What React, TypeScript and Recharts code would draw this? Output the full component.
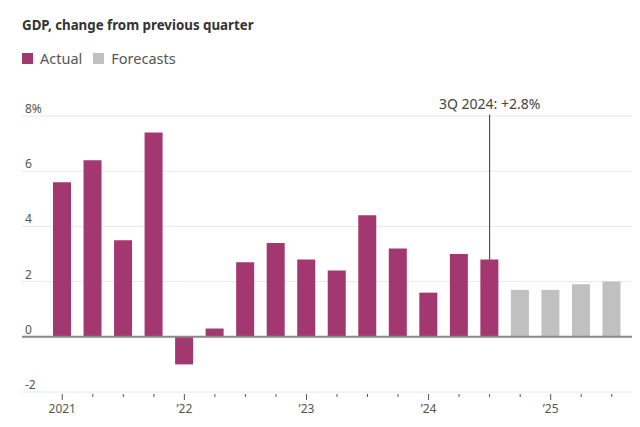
import React from 'react';
import { ComposedChart, Bar, Cell, XAxis, YAxis, CartesianGrid, ReferenceLine } from 'recharts';

const quarters = [
  '1Q21', '2Q21', '3Q21', '4Q21',
  '1Q22', '2Q22', '3Q22', '4Q22',
  '1Q23', '2Q23', '3Q23', '4Q23',
  '1Q24', '2Q24', '3Q24', '4Q24',
  '1Q25', '2Q25', '3Q25',
];
const gdpValues = [5.6, 6.4, 3.5, 7.4, -1.0, 0.3, 2.7, 3.4, 2.8, 2.4, 4.4, 3.2, 1.6, 3.0, 2.8, 1.7, 1.7, 1.9, 2.0];
const isForecast = [false, false, false, false, false, false, false, false, false, false, false, false, false, false, false, true, true, true, true];
const yearLabels: Record<string, string> = { '1Q21': '2021', '1Q22': '\u201922', '1Q23': '\u201923', '1Q24': '\u201924', '1Q25': '\u201925' };
const yTicks = [-2, 0, 2, 4, 6, 8];

const ACTUAL = '#a3376f';
const FORECAST = '#c0c0c0';
const FONT = '"Noto Sans", Lato, sans-serif';

const data = quarters.map((q, i) => ({ q, value: gdpValues[i], forecast: isForecast[i] }));

const YTick = (props: any) => {
  const { y, payload } = props;
  return (
    <text x={25} y={y - 3} fontSize={12} fill="#555" fontFamily={FONT}>
      {payload.value === 8 ? '8%' : payload.value}
    </text>
  );
};

const XTick = (props: any) => {
  const { x, y, payload } = props;
  const label = yearLabels[payload.value];
  return (
    <g>
      <line x1={x} x2={x} y1={y + 2} y2={y + (label ? 8 : 5)} stroke="#555" strokeWidth={1} />
      {label && (
        <text x={x} y={y + 21} textAnchor="middle" fontSize={12} fill="#555" fontFamily={FONT}>
          {label}
        </text>
      )}
    </g>
  );
};

const LegendItem = ({ color, label }: { color: string; label: string }) => (
  <span style={{ display: 'inline-flex', alignItems: 'center', marginRight: 11 }}>
    <span style={{ width: 11, height: 11, background: color, display: 'inline-block', marginRight: 7 }} />
    <span>{label}</span>
  </span>
);

export default function App() {
  return (
    <div style={{ position: 'absolute', left: 0, top: 0, width: 640, height: 427, background: '#fff', fontFamily: FONT }}>
      <div style={{ position: 'absolute', left: 22, top: 16, fontSize: 13.3, fontWeight: 700, color: '#333' }}>
        GDP, change from previous quarter
      </div>
      <div style={{ position: 'absolute', left: 22, top: 48, fontSize: 14.5, color: '#555', display: 'flex' }}>
        <LegendItem color={ACTUAL} label="Actual" />
        <LegendItem color={FORECAST} label="Forecasts" />
      </div>
      <ComposedChart width={640} height={427} data={data} margin={{ top: 116, right: 8, bottom: 0, left: 20 }}>
        <CartesianGrid vertical={false} stroke="#e8e8e8" />
        <XAxis
          dataKey="q"
          height={35}
          axisLine={false}
          tickLine={false}
          tickSize={0}
          tickMargin={0}
          interval={0}
          padding={{ left: 25, right: 5 }}
          tick={<XTick />}
        />
        <YAxis width={2} domain={[-2, 8]} ticks={yTicks} interval={0} axisLine={false} tickLine={false} tick={<YTick />} />
        <Bar dataKey="value" barSize={18} isAnimationActive={false}>
          {data.map((d) => (
            <Cell key={d.q} fill={d.forecast ? FORECAST : ACTUAL} />
          ))}
        </Bar>
        <ReferenceLine y={0} stroke="#888" strokeWidth={2} />
        <ReferenceLine
          segment={[{ x: '3Q24', y: 2.8 }, { x: '3Q24', y: 8.05 }]}
          stroke="#333"
          strokeWidth={1}
          ifOverflow="visible"
          label={{ value: '3Q 2024: +2.8%', position: 'top', fill: '#444', fontSize: 14, fontFamily: FONT, offset: 6 } as any}
        />
      </ComposedChart>
    </div>
  );
}
